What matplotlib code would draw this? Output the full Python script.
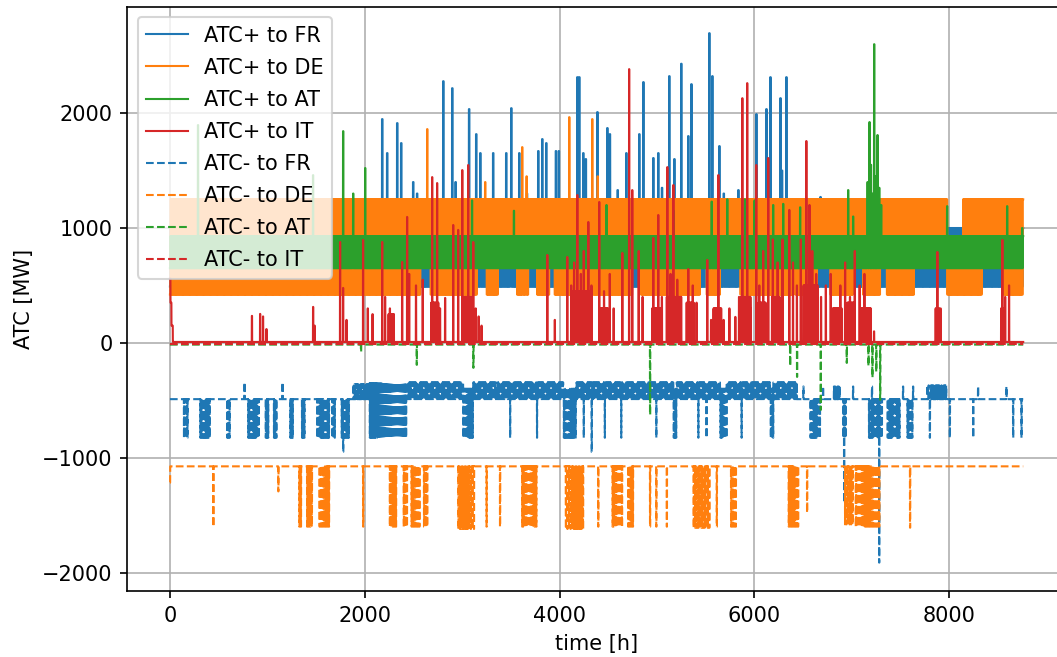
import numpy as np
import matplotlib.pyplot as plt

plt.rcParams['path.simplify'] = False

hours = np.arange(8760)

# every entry: (start h, end h, pulse, base); inside a segment the value is `pulse`
# for the first hours of each repeat period and `base` for the rest
fr_plus = [(0, 8760, 490, 1000)]
fr_plus_spikes = [(2177, 1948), (2228, 1652), (2331, 1913), (2372, 1739), (2495, 1400),
                  (2535, 1300), (2804, 2278), (2896, 2217), (2930, 1400), (3069, 2035),
                  (3142, 1817), (3184, 1652), (3316, 1652), (3450, 1652), (3502, 2043),
                  (3584, 1652), (3663, 1300), (3779, 1670), (3820, 1774), (3861, 1739),
                  (3960, 1670), (3990, 1670), (4180, 2313), (4200, 2313), (4241, 1652),
                  (4267, 1600), (4386, 2009), (4488, 1870), (4514, 1817), (4594, 1330),
                  (4683, 1652), (4816, 1817), (4858, 2270), (4960, 1609), (5011, 1652),
                  (5049, 1350), (5124, 2322), (5176, 1600), (5247, 2430), (5319, 1800),
                  (5351, 2252), (5535, 2696), (5566, 2322), (5638, 1713), (5683, 1300),
                  (5833, 1330), (6018, 1991), (6121, 2035), (6162, 2313), (6265, 2130),
                  (6281, 1500), (6326, 2313), (6676, 1270)]

de_plus = [(0, 8760, 420, 1250), (2570, 2670, 800, 1250), (3150, 3250, 800, 1250),
           (3370, 3560, 800, 1250), (3680, 3770, 800, 1250), (3900, 3950, 800, 1250),
           (4745, 4830, 800, 1250), (5440, 5510, 800, 1250), (5650, 5850, 800, 1250),
           (6400, 6420, 800, 1250), (6640, 6775, 800, 1250), (7010, 7115, 800, 1250),
           (7290, 7360, 800, 1250), (7640, 7980, 800, 1250), (7980, 8140, 420, 800),
           (8340, 8550, 800, 1250)]
de_plus_spikes = [(2640, 1861), (3235, 1400), (3615, 1704), (3660, 1450), (4098, 1965),
                  (4334, 1948), (4390, 1450)]

at_plus = [(0, 8760, 650, 930)]
at_plus_spikes = [(287, 1896), (1468, 1460), (1777, 1843), (1880, 1300), (2003, 1522),
                  (3100, 1240), (3530, 1150), (4480, 1200), (5170, 1150), (5560, 1230),
                  (5720, 1250), (5900, 1250), (6000, 1240), (6191, 1200), (6294, 1210),
                  (6468, 1180), (6961, 1330), (7012, 1100), (7160, 1400), (7180, 1922),
                  (7195, 1550), (7210, 1300), (7228, 2600), (7245, 1450), (7262, 1809),
                  (7280, 1350), (7300, 1200), (7977, 1190), (8593, 1190), (8747, 1000)]

it_plus = [(0, 8760, 8, 8), (0, 6, 560, 560), (6, 16, 350, 350), (16, 30, 150, 150),
           (2240, 2300, 250, 8), (2680, 2760, 350, 8), (3000, 3120, 400, 8),
           (4120, 4330, 450, 8), (4420, 4500, 300, 8), (4950, 5050, 300, 8),
           (5100, 5250, 400, 8), (5300, 5380, 350, 8), (5580, 5660, 300, 8),
           (5860, 5960, 400, 8), (6040, 6120, 350, 8), (6180, 6260, 400, 8),
           (6500, 6650, 500, 8), (6800, 6900, 300, 8), (6950, 7030, 350, 8),
           (7080, 7200, 300, 8), (7860, 7900, 300, 8), (8530, 8560, 300, 8)]
it_plus_spikes = [(841, 235), (925, 252), (955, 230), (990, 120), (1469, 313), (1485, 150),
                  (1746, 878), (1777, 478), (1812, 200), (1982, 896), (2030, 300),
                  (2079, 250), (2178, 878), (2208, 400), (2257, 300), (2383, 704),
                  (2434, 1096), (2455, 600), (2525, 500), (2594, 550), (2691, 1443),
                  (2742, 1391), (2772, 300), (2824, 391), (2907, 1026), (2958, 983),
                  (3000, 1504), (3061, 1548), (3113, 878), (3138, 300), (3168, 230),
                  (3198, 150), (3873, 765), (3950, 200), (4078, 748), (4118, 500),
                  (4148, 700), (4181, 1287), (4217, 600), (4247, 800), (4294, 1052),
                  (4326, 500), (4406, 1226), (4455, 450), (4514, 600), (4554, 300),
                  (4643, 783), (4713, 2383), (4745, 1330), (4811, 800), (4851, 400),
                  (4961, 913), (5012, 1113), (5049, 400), (5105, 1530), (5138, 600),
                  (5167, 1374), (5207, 550), (5247, 400), (5320, 643), (5366, 500),
                  (5405, 350), (5515, 722), (5554, 200), (5629, 1461), (5683, 200),
                  (5742, 300), (5803, 226), (5841, 400), (5875, 2130), (5925, 2261),
                  (5960, 300), (6018, 1548), (6049, 500), (6089, 800), (6141, 1609),
                  (6188, 900), (6237, 700), (6287, 900), (6357, 1157), (6395, 700),
                  (6435, 500), (6475, 900), (6532, 1757), (6564, 1200), (6593, 800),
                  (6633, 600), (6683, 400), (6732, 500), (6782, 600), (6831, 300),
                  (6881, 500), (6930, 700), (6980, 400), (7029, 800), (7079, 500),
                  (7128, 600), (7178, 300), (7227, 100), (7877, 791), (7910, 300),
                  (8544, 896), (8573, 400), (8613, 500)]

fr_minus = [(0, 8760, -490, -490), (1880, 2050, -360, -490), (2050, 2430, -826, -350),
            (2430, 6437, -490, -345),
            (137, 190, -826, -490), (308, 411, -826, -490), (582, 616, -826, -490),
            (804, 924, -826, -490), (975, 1010, -826, -490), (1061, 1095, -826, -490),
            (1232, 1266, -826, -490), (1352, 1386, -826, -490), (1506, 1643, -826, -490),
            (1660, 1694, -826, -490), (1763, 1848, -826, -490),
            (3010, 3114, -826, -400), (3350, 3360, -826, -400), (3486, 3496, -826, -400),
            (3760, 3770, -826, -400), (4038, 4175, -826, -400), (4240, 4250, -826, -400),
            (4462, 4472, -826, -400), (4633, 4643, -826, -400), (4993, 5003, -826, -400),
            (5168, 5202, -826, -400), (5420, 5430, -826, -400), (5506, 5516, -826, -400),
            (5647, 5715, -826, -400), (5865, 5875, -826, -400), (6160, 6194, -826, -400),
            (6571, 6674, -826, -490), (6810, 6879, -380, -490), (7769, 7974, -370, -490),
            (6906, 6947, -826, -490), (7170, 7310, -826, -490), (7359, 7495, -826, -490),
            (7564, 7632, -826, -490)]
fr_minus_spikes = [(765, -345), (1155, -345), (1778, -948), (4329, -950), (6502, -380),
                   (6704, -380), (7012, -380), (7206, -380), (7525, -380), (7628, -380),
                   (8295, -380), (8586, -380), (7800, -826), (8005, -826), (8245, -826),
                   (8655, -826), (8741, -826), (6920, -1391), (7280, -1913)]

de_minus = [(0, 8760, -1075, -1075), (1317, 1351, -1600, -1075), (1403, 1472, -1600, -1075),
            (1523, 1643, -1600, -1075), (2258, 2327, -1600, -1075), (2395, 2447, -1600, -1075),
            (2481, 2567, -1600, -1075), (2601, 2652, -1600, -1075), (2960, 3130, -1620, -1075),
            (3616, 3776, -1600, -1075), (4056, 4244, -1620, -1075), (4538, 4652, -1600, -1075),
            (4703, 4755, -1600, -1075), (4980, 5000, -1600, -1075), (5370, 5544, -1610, -1075),
            (5750, 5818, -1600, -1075), (6347, 6450, -1600, -1075), (6930, 7012, -1580, -1075),
            (7030, 7290, -1600, -1075)]
de_minus_spikes = [(0, -1217), (445, -1600), (1112, -1293), (1983, -1600), (3250, -1600),
                   (3388, -1600), (4396, -1600), (4928, -1600), (5100, -1600),
                   (5613, -1600), (6540, -1478), (7597, -1609)]

at_minus = [(0, 8760, -15, -15)]
at_minus_spikes = [(1961, -78), (2533, -191), (3114, -217), (4928, -626), (6366, -200),
                   (6437, -296), (6680, -583), (6947, -174), (7170, -200), (7210, -300),
                   (7250, -250), (7290, -496)]

it_minus = [(0, 8760, -10, -10)]
it_minus_spikes = []


def build(segments, spikes, period=12, duty=6, width=4):
    y = np.zeros(len(hours))
    for a, b, pulse, base in segments:
        h = hours[a:b]
        y[a:b] = np.where(h % period < duty, pulse, base)
    for h0, v in spikes:
        y[h0:h0 + width] = v
    return y


series = [
    ('ATC+ to FR', build(fr_plus, fr_plus_spikes, width=6), 'C0', '-'),
    ('ATC+ to DE', build(de_plus, de_plus_spikes), 'C1', '-'),
    ('ATC+ to AT', build(at_plus, at_plus_spikes, period=10, duty=5), 'C2', '-'),
    ('ATC+ to IT', build(it_plus, it_plus_spikes, period=6, duty=2, width=3), 'C3', '-'),
    ('ATC- to FR', build(fr_minus, fr_minus_spikes, period=12, duty=2, width=3), 'C0', '--'),
    ('ATC- to DE', build(de_minus, de_minus_spikes, period=16, duty=3, width=3), 'C1', '--'),
    ('ATC- to AT', build(at_minus, at_minus_spikes, width=3), 'C2', '--'),
    ('ATC- to IT', build(it_minus, it_minus_spikes), 'C3', '--'),
]

fig = plt.figure(figsize=(1057 / 150, 657 / 150), dpi=150)
ax = fig.add_axes([0.1204, 0.1005, 0.888, 0.889])
for name, y, c, ls in series:
    ax.plot(hours, y, color=c, linestyle=ls, linewidth=1.0, label=name)

ax.set_xlim(-438, 9197)
ax.set_ylim(-2160, 2925)
ax.set_xlabel('time [h]')
ax.set_ylabel('ATC [MW]')
ax.grid(True)
ax.legend(loc='upper left', labelspacing=0.58)

fig.savefig('out.png', dpi=150)
